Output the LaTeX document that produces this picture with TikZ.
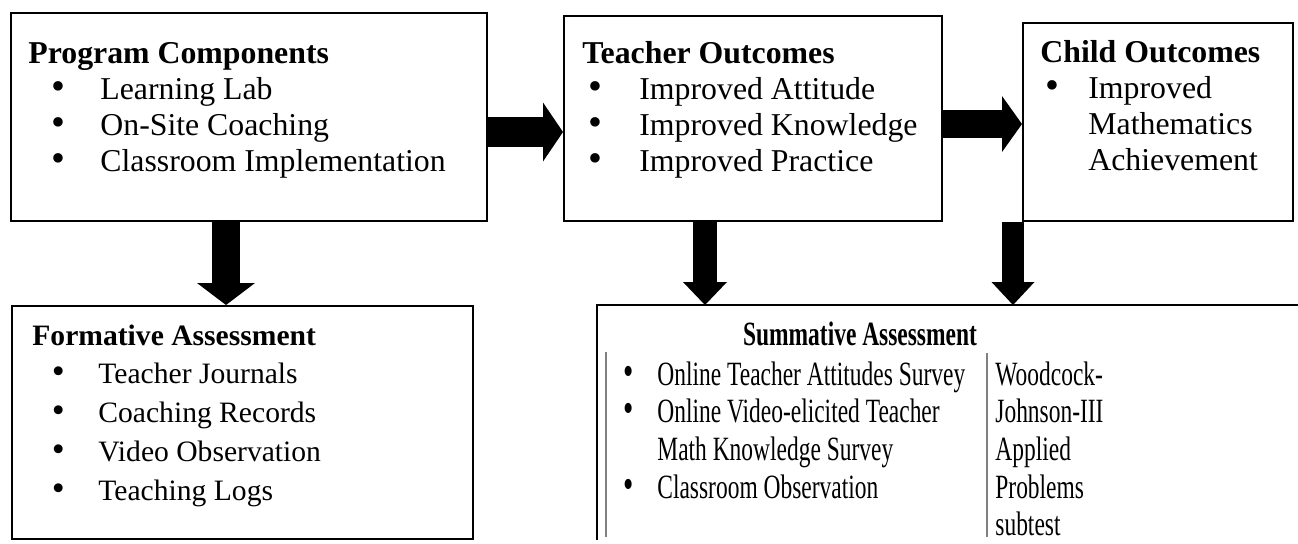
\documentclass[tikz,border=0pt]{standalone}
\usepackage{fontspec}
\setmainfont{Liberation Serif}
\newfontfamily\narrowserif[FakeStretch=0.69]{Liberation Serif}
\usetikzlibrary{arrows.meta}
% bullet line: indent, bullet box width, text
\newcommand{\bitem}[3]{\hspace*{#1}\makebox[#2][l]{\scalebox{1.25}{\textbullet}}#3}

\begin{document}
\begin{tikzpicture}[x=0.5pt,y=-0.5pt,
    box/.style 2 args={draw,line width=1pt,minimum width=#1,minimum height=#2,
        anchor=north west,inner sep=0pt},
    toptext/.style={anchor=base west,inner sep=0pt,font=\fontsize{15.9}{18}\selectfont},
    lowtext/.style={anchor=base west,inner sep=0pt,font=\fontsize{14.8}{19.4}\selectfont},
    sumtext/.style={anchor=base west,inner sep=0pt,font=\narrowserif\fontsize{17}{18.85}\selectfont},
    blockarrow/.style n args={3}{line width=#1,-{Triangle[width=#2,length=#3,line width=0pt]}},
    divider/.style={draw=black!50,line width=0.8pt}]
    \useasboundingbox (0,0) rectangle (1298,543);
    % Boxes
    \node[box={238pt}{104pt}] (prog) at (10,12) {};
    \node[box={189pt}{102.5pt}] (teach) at (563,15) {};
    \node[box={135pt}{99pt}] (child) at (1022,22) {};
    \node[box={230.5pt}{116.5pt}] (form) at (11,305) {};
    \node[box={350.5pt}{116.5pt},draw=none] (summ) at (597,305) {};
    \draw[line width=1pt] (summ.south west) |- (summ.north east);
    \draw[divider] (606,352) -- (606,537);
    \draw[divider] (987,353) -- (987,537);
    % Texts
    \node[toptext] (progtext) at (28,63) {\begin{tabular}[t]{@{}l@{}}
        \textbf{Program Components}\\
        \bitem{11.5pt}{24.5pt}{Learning Lab}\\
        \bitem{11.5pt}{24.5pt}{On-Site Coaching}\\
        \bitem{11.5pt}{24.5pt}{Classroom Implementation}
    \end{tabular}};
    \node[toptext] (teachtext) at (582,63) {\begin{tabular}[t]{@{}l@{}}
        \textbf{Teacher Outcomes}\\
        \bitem{3pt}{25.5pt}{Improved Attitude}\\
        \bitem{3pt}{25.5pt}{Improved Knowledge}\\
        \bitem{3pt}{25.5pt}{Improved Practice}
    \end{tabular}};
    \node[toptext] (childtext) at (1040,62) {\begin{tabular}[t]{@{}l@{}}
        \textbf{Child Outcomes}\\
        \bitem{2.5pt}{21.5pt}{Improved}\\
        \hspace*{24pt}Mathematics\\
        \hspace*{24pt}Achievement
    \end{tabular}};
    \node[lowtext] (formtext) at (32,345) {\begin{tabular}[t]{@{}l@{}}
        \textbf{Formative Assessment}\\
        \bitem{9.7pt}{23.3pt}{Teacher Journals}\\
        \bitem{9.7pt}{23.3pt}{Coaching Records}\\
        \bitem{9.7pt}{23.3pt}{Video Observation}\\
        \bitem{9.7pt}{23.3pt}{Teaching Logs}
    \end{tabular}};
    \node[sumtext,anchor=base] (sumtitle) at (860,345) {\textbf{Summative Assessment}};
    \node[sumtext] (sumlist) at (623,385) {\begin{tabular}[t]{@{}l@{}}
        \bitem{0pt}{17pt}{Online Teacher Attitudes Survey}\\
        \bitem{0pt}{17pt}{Online Video-elicited Teacher}\\
        \hspace*{17pt}Math Knowledge Survey\\
        \bitem{0pt}{17pt}{Classroom Observation}
    \end{tabular}};
    \node[sumtext] (sumtest) at (995,385) {\begin{tabular}[t]{@{}l@{}}
        Woodcock-\\ Johnson-III\\ Applied\\ Problems\\ subtest
    \end{tabular}};
    % Arrows
    \draw[blockarrow={15pt}{29.5pt}{10pt}] (prog.east |- 0,132) -- (teach.west |- 0,132);
    \draw[blockarrow={14pt}{28pt}{10pt}] (teach.east |- 0,124) -- (child.west |- 0,124);
    \draw[blockarrow={14pt}{29pt}{11pt}] (prog.south -| 226,0) -- (form.north -| 226,0);
    \draw[blockarrow={12pt}{22pt}{11.5pt}] (teach.south -| 705,0) -- (summ.north -| 705,0);
    \draw[blockarrow={11pt}{21.5pt}{11.5pt}] (child.south -| 1013,0) -- (summ.north -| 1013,0);
\end{tikzpicture}
\end{document}
